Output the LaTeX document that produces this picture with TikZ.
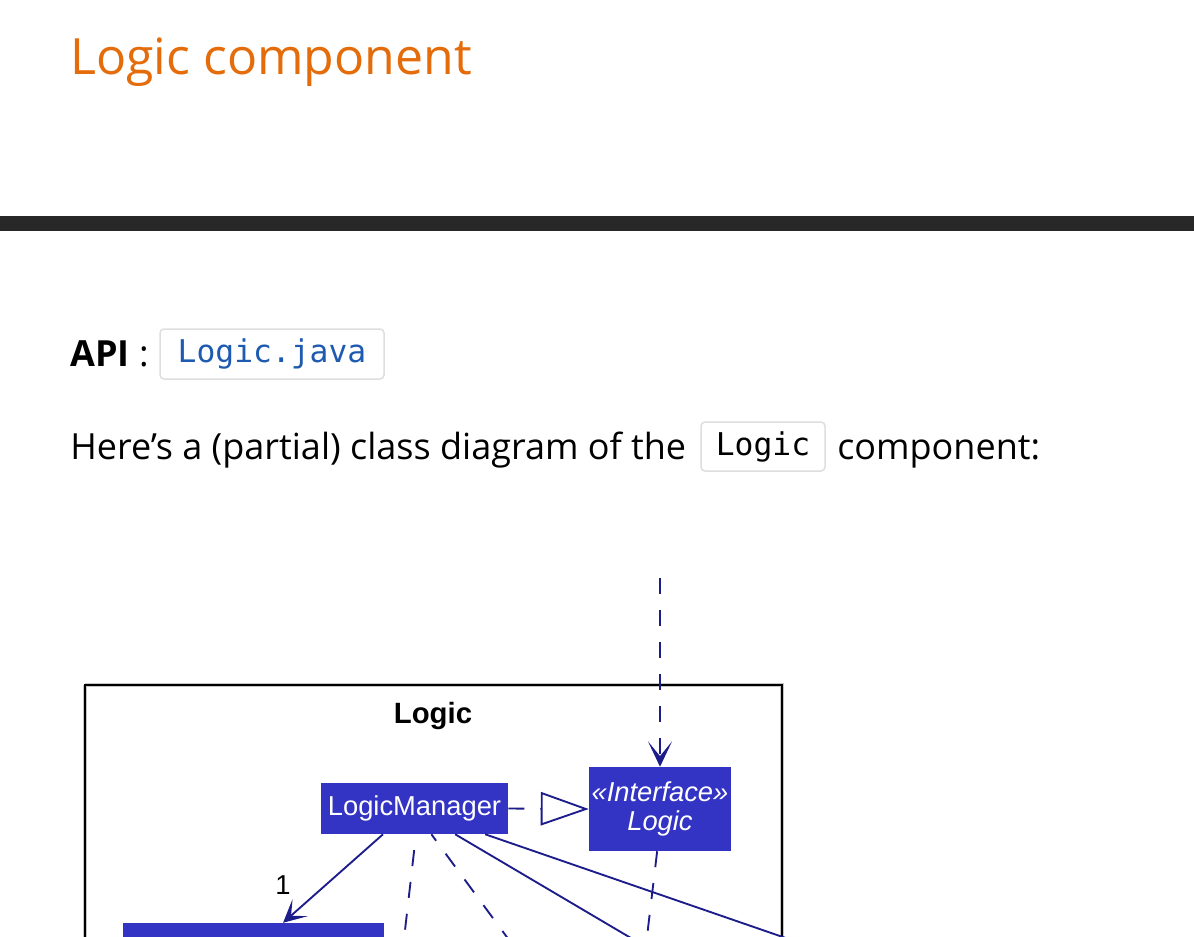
\documentclass[tikz,border=0pt]{standalone}
\usepackage{fontspec}
\setmainfont{Open Sans}
\newfontfamily\umlfont{Liberation Sans}
\newfontfamily\codefont{DejaVu Sans Mono}
\usetikzlibrary{arrows.meta,calc}
\definecolor{titleorange}{HTML}{E46C0A}
\definecolor{rulegray}{HTML}{282828}
\definecolor{codeblue}{HTML}{1E5BB0}
\definecolor{codeborder}{HTML}{DEDEDE}
\definecolor{umlfill}{HTML}{3333C4}
\definecolor{umlline}{HTML}{1C1C8A}
\tikzset{
  txt/.style={anchor=base west, inner sep=0pt, text=black},
  bodyfont/.style={font=\fontsize{27}{32}\selectfont},
  codebox/.style={draw=codeborder, line width=1.125pt, fill=white, rounded corners=3pt, inner sep=0pt,
    font=\codefont\fontsize{23.5}{28}\selectfont},
  umlbox/.style={fill=umlfill, text=white, inner sep=0pt, font=\umlfont\fontsize{20.5}{22}\selectfont},
  umlarrow/.style={draw=umlline, line width=1.4pt},
  umldash/.style={umlarrow, dash pattern=on 12pt off 12pt},
  depend/.style={umldash, -{Stealth[length=19pt,width=18pt,inset=11pt]}},
  realize/.style={umldash, -{Triangle[open,fill=white,length=36pt,width=25pt,line width=1.4pt]}},
  assoc/.style={umlarrow, -{Stealth[length=17pt,width=17pt,inset=9pt]}},
}
\begin{document}
\begin{tikzpicture}[x=0.75pt,y=-0.75pt]
\useasboundingbox (0,0) rectangle (1194,936);
\begin{scope}
\clip (0,0) rectangle (1194,936);
\fill[white] (0,0) rectangle (1194,936);
% heading
\node[txt, text=titleorange, font=\fontsize{37.5}{46}\selectfont] (title) at (70,74) {Logic component};
% rule
\fill[rulegray] (0,216) rectangle (1194,231);
% API line
\node[txt, bodyfont, font=\bfseries\fontsize{27}{32}\selectfont] (api) at (70,366) {API};
\node[anchor=base, inner sep=0pt, bodyfont] (colon) at (144,366) {:};
\node[codebox, text=codeblue, minimum width=168pt, minimum height=37.5pt] (apicode) at (272,354) {Logic.java};
% body line
\node[txt, bodyfont] (body1) at (70,459) {Here’s a (partial) class diagram of the};
\node[codebox, text=black, minimum width=93pt, minimum height=36.75pt] (logiccode) at (763,446.5) {Logic};
\node[txt, bodyfont] (body2) at (837,459) {component:};
% package
\draw[gray!45, line width=3.6pt] (85,685) -- (782,685) -- (782,1000);
\draw[gray!45, line width=3.6pt] (85,685) -- (85,1000);
\draw[black, line width=1.9pt] (85,1000) -- (85,685) -- (782,685) -- (782,1000);
\node[anchor=base, inner sep=0pt, font=\umlfont\bfseries\fontsize{22}{26}\selectfont] (pkgtitle) at (433,723) {Logic};
% classes
\node[umlbox, minimum width=140.25pt, minimum height=38.25pt] (lm) at (414.5,808.5) {LogicManager};
\node[umlbox, minimum width=106.5pt, minimum height=63pt, align=center,
  font=\umlfont\itshape\fontsize{20.5}{21.75}\selectfont] (iface) at (660,809) {«Interface»\\Logic};
\node[umlbox, minimum width=195.75pt, minimum height=55.5pt] (box1) at (253.5,960) {};
% free ends
\coordinate (topend) at (660,578);
\coordinate (d1end) at (403.3,945);
\coordinate (d2end) at (512.7,945);
\coordinate (s3end) at (636,941);
\coordinate (s4end) at (791.5,940);
\coordinate (d5end) at (646,945);
% connectors
\draw[depend] (topend) -- (iface.north);
\draw[realize] (lm.east) -- (iface.west);
\draw[assoc] ($(lm.south west)!0.332!(lm.south east)$) -- ($(box1.north west)!0.613!(box1.north east)$);
\node[anchor=center, inner sep=0pt, font=\umlfont\fontsize{20.5}{22}\selectfont] (mult) at (283,885) {1};
\draw[umldash, dash phase=12pt] ($(lm.south west)!0.508!(lm.south east)$) -- (d1end);
\draw[umldash, dash phase=6pt] ($(lm.south west)!0.59!(lm.south east)$) -- (d2end);
\draw[umlarrow] ($(lm.south west)!0.717!(lm.south east)$) -- (s3end);
\draw[umlarrow] ($(lm.south west)!0.877!(lm.south east)$) -- (s4end);
\draw[umldash] ($(iface.south west)!0.48!(iface.south east)$) -- (d5end);
\end{scope}
\end{tikzpicture}
\end{document}
